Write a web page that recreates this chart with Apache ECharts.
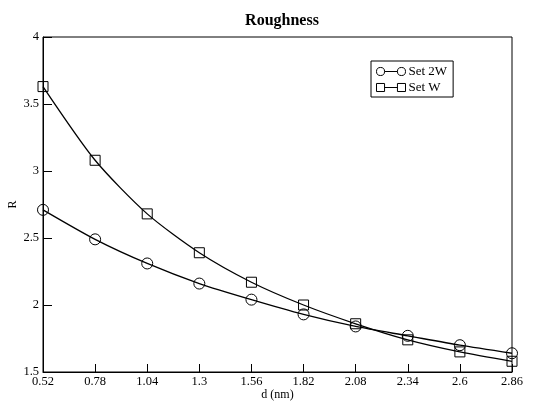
<!DOCTYPE html>
<html><head><meta charset="utf-8">
<script src="https://cdn.jsdelivr.net/npm/echarts@6/dist/echarts.min.js"></script>
<style>html,body{margin:0;padding:0;background:#fff}#c{width:534px;height:405px}</style>
</head><body><div id="c"></div>
<script>
const xValues = [0.52, 0.78, 1.04, 1.3, 1.56, 1.82, 2.08, 2.34, 2.6, 2.86];
const set2W = [2.71, 2.49, 2.31, 2.16, 2.04, 1.93, 1.84, 1.77, 1.70, 1.64];
const setW = [3.63, 3.08, 2.68, 2.39, 2.17, 2.00, 1.86, 1.74, 1.65, 1.58];
const yTicks = [1.5, 2, 2.5, 3, 3.5, 4];

const font = '"Liberation Serif", "DejaVu Serif", serif';
const circleIcon = 'path://M0,5A5,5 0 1,1 10,5A5,5 0 1,1 0,5Z M10,5L26,5 M26,5A5,5 0 1,1 36,5A5,5 0 1,1 26,5Z';
const squareIcon = 'path://M0,0L10,0L10,10L0,10Z M10,5L26,5 M26,0L36,0L36,10L26,10Z';

const chart = echarts.init(document.getElementById('c'));
chart.setOption({
  animation: false,
  title: {
    text: 'Roughness', left: 277, top: 8, textAlign: 'center',
    textStyle: {fontFamily: font, fontSize: 16, fontWeight: 'bold', color: '#000'}
  },
  grid: {left: 43, right: 22, top: 37, bottom: 33, show: true, borderColor: '#000', borderWidth: 1,
    containLabel: false, outerBoundsMode: 'none'},
  legend: {
    orient: 'vertical', left: 371, top: 61, padding: [4, 6, 3, 5], itemGap: 3,
    itemWidth: 29, itemHeight: 9,
    borderColor: '#000', borderWidth: 1, backgroundColor: '#fff',
    textStyle: {fontFamily: font, fontSize: 13, color: '#000', padding: [0, 0, 0, -2]},
    data: [
      {name: 'Set 2W', icon: circleIcon},
      {name: 'Set W', icon: squareIcon}
    ],
    itemStyle: {color: 'transparent', borderColor: '#000', borderWidth: 1}
  },
  xAxis: {
    type: 'value', min: 0.52, max: 2.86, interval: 0.26,
    name: 'd (nm)', nameLocation: 'middle', nameGap: 17, nameMoveOverlap: false,
    nameTextStyle: {fontFamily: font, fontSize: 12, color: '#000'},
    axisLine: {lineStyle: {color: '#000', width: 1}},
    axisTick: {inside: true, length: 8, lineStyle: {color: '#000'}},
    axisLabel: {margin: 3, fontFamily: font, fontSize: 12.5, color: '#000',
      formatter: v => String(parseFloat(v.toFixed(2)))},
    splitLine: {show: false}
  },
  yAxis: {
    type: 'value', min: yTicks[0], max: yTicks[yTicks.length - 1], interval: 0.5,
    name: 'R', nameLocation: 'middle', nameGap: 24, nameRotate: 90, nameMoveOverlap: false,
    nameTextStyle: {fontFamily: font, fontSize: 12, color: '#000'},
    axisLine: {lineStyle: {color: '#000', width: 1}},
    axisTick: {inside: true, length: 9, lineStyle: {color: '#000'}},
    axisLabel: {margin: 4, fontFamily: font, fontSize: 12.5, color: '#000',
      formatter: v => String(parseFloat(v.toFixed(2)))},
    splitLine: {show: false}
  },
  series: [
    {
      name: 'Set 2W', type: 'line', smooth: 0.25,
      data: xValues.map((x, i) => [x, set2W[i]]),
      symbol: 'circle', symbolSize: 11,
      lineStyle: {color: '#000', width: 1.3},
      itemStyle: {color: 'transparent', borderColor: '#000', borderWidth: 1},
      clip: false
    },
    {
      name: 'Set W', type: 'line', smooth: 0.25,
      data: xValues.map((x, i) => [x, setW[i]]),
      symbol: 'rect', symbolSize: 10,
      lineStyle: {color: '#000', width: 1.3},
      itemStyle: {color: 'transparent', borderColor: '#000', borderWidth: 1},
      clip: false
    }
  ]
});
</script></body></html>
